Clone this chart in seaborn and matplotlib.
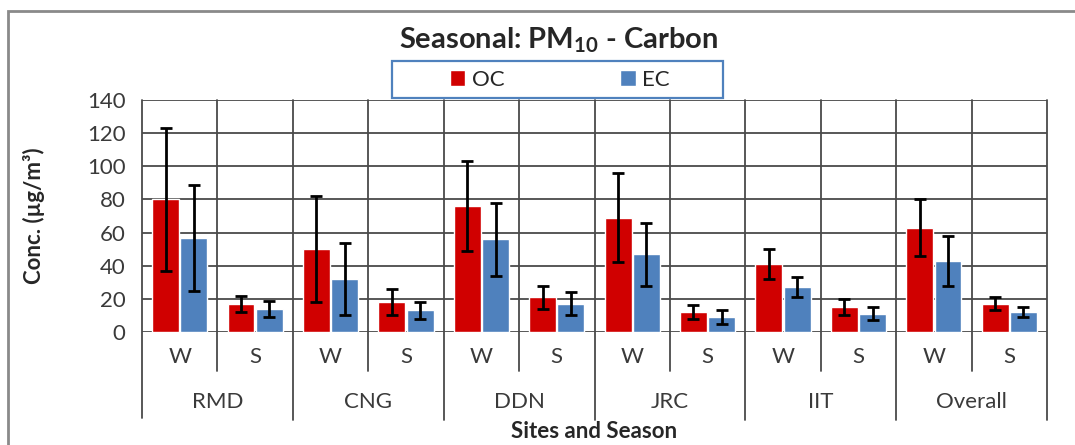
import pandas as pd
import seaborn as sns
from matplotlib import pyplot as plt, transforms
from matplotlib.patches import Rectangle

# data
sites = ['RMD', 'CNG', 'DDN', 'JRC', 'IIT', 'Overall']
seasons = ['W', 'S']
oc_mean = [80, 17, 50, 18, 76, 21, 69, 12, 41, 15, 63, 17]
oc_err = [43, 5, 32, 8, 27, 7, 27, 4, 9, 5, 17, 4]
ec_mean = [57, 14, 32, 13, 56, 17, 47, 9, 27, 11, 43, 12]
ec_err = [32, 5, 22, 5, 22, 7, 19, 4, 6, 4, 15, 3]

groups = [f'{s} {se}' for s in sites for se in seasons]
df = pd.DataFrame({
    'group': groups * 2,
    'conc': oc_mean + ec_mean,
    'species': ['OC'] * len(groups) + ['EC'] * len(groups),
})

sns.set_style('white')
plt.rcParams['font.family'] = ['Lato', 'DejaVu Sans']
txt_col = '#3a3a3a'
line_col = '#4a4a4a'

fig = plt.figure(figsize=(10.75, 4.45), dpi=100)
ax = fig.add_axes([142 / 1075, 1 - 332 / 445, 905 / 1075, 232 / 445])

sns.barplot(data=df, x='group', y='conc', hue='species', order=groups,
            palette=['#D00000', '#4F81BD'], saturation=1, width=0.75, gap=0.05,
            errorbar=None, ax=ax, zorder=3)

for cont, errs in zip(ax.containers, [oc_err, ec_err]):
    xs = [p.get_x() + p.get_width() / 2 for p in cont]
    ys = [p.get_height() for p in cont]
    ax.errorbar(xs, ys, yerr=errs, fmt='none', ecolor='black',
                elinewidth=2, capsize=4.5, capthick=2, zorder=4)

ax.set_ylim(0, 140)
ax.set_xlim(-0.5, len(groups) - 0.5)
ax.set_yticks(range(0, 141, 20))
ax.yaxis.grid(True, color=line_col, lw=1.3, zorder=0)
for sp in ax.spines.values():
    sp.set_visible(False)
ax.tick_params(axis='y', length=7, color=line_col, width=1.3, labelsize=16,
               pad=5, labelcolor=txt_col)
ax.tick_params(axis='x', length=0, labelsize=16, pad=11, labelcolor=txt_col)
ax.set_xticks(range(len(groups)))
ax.set_xticklabels(seasons * len(sites))

# category separators, extended down into the label rows
blend = transforms.blended_transform_factory(ax.transData, ax.transAxes)
for i in range(len(groups) + 1):
    x = i - 0.5
    low = -0.38 if i % 2 == 0 else -0.17
    if i == 0:
        low = -0.37
    ax.plot([x, x], [1, low], transform=blend, color=line_col,
            lw=1.3, clip_on=False, zorder=2)

for j, site in enumerate(sites):
    ax.text(2 * j + 0.5, -0.30, site, transform=blend, ha='center',
            va='center', fontsize=16, color=txt_col)

ax.set_xlabel('')
ax.set_ylabel('Conc. (µg/m³)', fontsize=16, fontweight='bold')
ax.yaxis.set_label_coords(-97 / 905, 0.5)
ax.text(0.5, -0.43, 'Sites and Season', transform=ax.transAxes, ha='center',
        va='center', fontsize=16, fontweight='bold')

fig.text(559 / 1075, 1 - 40 / 445, 'Seasonal: PM$_{\\mathregular{10}}$ - Carbon',
         ha='center', va='center', fontsize=21, fontweight='bold')

# legend box
ax.get_legend().remove()
handles, labels = ax.get_legend_handles_labels()
fig.legend(handles[:2], ['OC', 'EC'], loc='center',
           bbox_to_anchor=(560 / 1075, 1 - 80 / 445), ncol=2, frameon=False,
           fontsize=16, handlelength=0.7, handleheight=0.7,
           handletextpad=0.3, columnspacing=5.2)
fig.patches.append(Rectangle((392 / 1075, 1 - 98 / 445), 331 / 1075, 37 / 445,
                             transform=fig.transFigure, fill=False,
                             edgecolor='#4F81BD', lw=1.6))

# outer chart frame
fig.patches.append(Rectangle((8 / 1075, -0.05), 1.1, 1 - 11 / 445 + 0.05,
                             transform=fig.transFigure, fill=False,
                             edgecolor='#8a8a8a', lw=2))

fig.savefig('out.png', dpi=100)
